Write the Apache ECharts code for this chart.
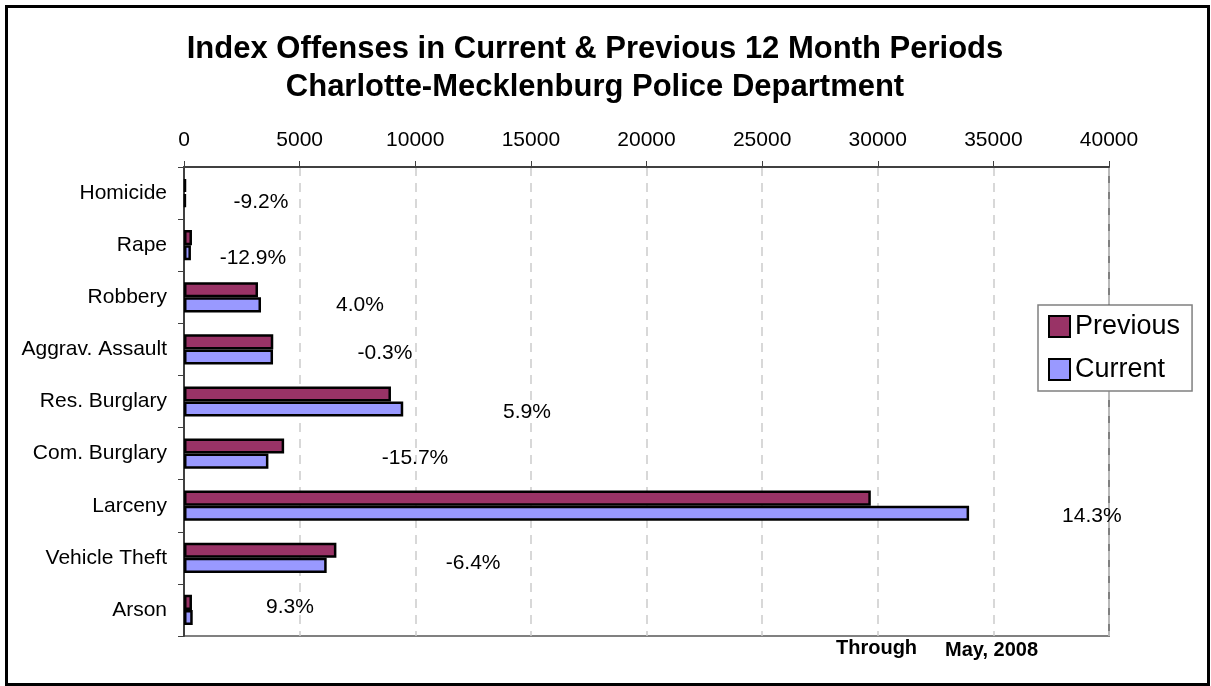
<!DOCTYPE html>
<html>
<head>
<meta charset="utf-8">
<script src="https://cdn.jsdelivr.net/npm/echarts@6/dist/echarts.min.js"></script>
<style>
html,body{margin:0;padding:0;background:#fff;}
#chart{width:1211px;height:686px;}
</style>
</head>
<body>
<div id="chart"></div>
<script>
const categories = ['Homicide','Rape','Robbery','Aggrav. Assault','Res. Burglary','Com. Burglary','Larceny','Vehicle Theft','Arson'];
const previousValues = [87, 345, 3200, 3860, 8950, 4330, 29700, 6590, 345];
const currentValues  = [79, 300, 3330, 3850, 9480, 3650, 33950, 6170, 377];
const pctChange = ['-9.2%','-12.9%','4.0%','-0.3%','5.9%','-15.7%','14.3%','-6.4%','9.3%'];
const xTicks = [0,5000,10000,15000,20000,25000,30000,35000,40000];

// label placement (layout, in axis units / pixel offsets)
const pctLabelX = [3330, 2980, 7610, 8690, 14830, 9990, 39260, 12500, 4580];
const pctLabelDy = [9, 13, 8, 4, 11, 5, 10, 5, -3];

const FONT = "'Liberation Sans', Arial, sans-serif";
const chart = echarts.init(document.getElementById('chart'));

const option = {
  animation: false,
  backgroundColor: '#fff',
  textStyle: {fontFamily: FONT},
  title: {
    text: 'Index Offenses in Current & Previous 12 Month Periods\nCharlotte-Mecklenburg Police Department',
    left: 590, top: 25, textAlign: 'center',
    textStyle: {fontFamily: FONT, fontSize: 31, fontWeight: 'bold', color: '#000', lineHeight: 38}
  },
  legend: {
    orient: 'vertical',
    left: 1038, top: 305,
    width: 159,
    padding: [8, 12, 8, 10],
    itemGap: 16,
    itemWidth: 21, itemHeight: 21,
    icon: 'rect',
    backgroundColor: '#fff',
    borderColor: '#808080', borderWidth: 1.5,
    textStyle: {fontFamily: FONT, fontSize: 27, color: '#000', padding: [0,0,0,0]},
    data: ['Previous','Current']
  },
  grid: {
    left: 184, right: 102, top: 167, bottom: 50,
    show: true, borderColor: '#808080', borderWidth: 2, backgroundColor: '#fff'
  },
  xAxis: {
    type: 'value', position: 'top',
    min: xTicks[0], max: xTicks[xTicks.length-1], interval: 5000,
    axisLine: {show: true, lineStyle: {color: '#404040', width: 2}},
    axisTick: {show: true, inside: false, length: 6, lineStyle: {color: '#404040', width: 1}},
    axisLabel: {fontFamily: FONT, fontSize: 21, color: '#000', margin: 16, formatter: v => String(v)},
    splitLine: {show: true, lineStyle: {color: '#cccccc', type: [9, 7], width: 1.5}}
  },
  yAxis: {
    type: 'category', inverse: true, data: categories,
    axisLine: {show: true, lineStyle: {color: '#404040', width: 2}},
    axisTick: {show: true, length: 6, lineStyle: {color: '#404040', width: 1}},
    axisLabel: {fontFamily: FONT, fontSize: 21, color: '#000', margin: 17}
  },
  series: [
    {
      name: 'Previous', type: 'bar', data: previousValues,
      barGap: '0%', barCategoryGap: '42%',
      itemStyle: {color: '#993366', borderColor: '#000', borderWidth: 2.5}
    },
    {
      name: 'Current', type: 'bar', data: currentValues,
      barGap: '0%', barCategoryGap: '42%',
      itemStyle: {color: '#9999FF', borderColor: '#000', borderWidth: 2.5}
    },
    {
      name: 'pct', type: 'scatter', symbolSize: 0, silent: true,
      itemStyle: {opacity: 1},
      data: categories.map((c, i) => ({
        value: [pctLabelX[i], c],
        label: {show: true, position: 'inside', formatter: pctChange[i], offset: [0, pctLabelDy[i]],
                fontFamily: FONT, fontSize: 21, color: '#000', opacity: 1}
      })),
      z: 5
    }
  ],
  graphic: [
    {type: 'rect', left: 4, top: 4, z: 100, silent: true,
     shape: {width: 1202, height: 678},
     style: {fill: 'none', stroke: '#000', lineWidth: 3}},
    {type: 'text', left: 836, top: 638, z: 10,
     style: {text: 'Through', font: 'bold 20px ' + FONT, fill: '#000'}},
    {type: 'text', left: 945, top: 640, z: 10,
     style: {text: 'May, 2008', font: 'bold 20px ' + FONT, fill: '#000'}}
  ]
};
chart.setOption(option);
</script>
</body>
</html>
